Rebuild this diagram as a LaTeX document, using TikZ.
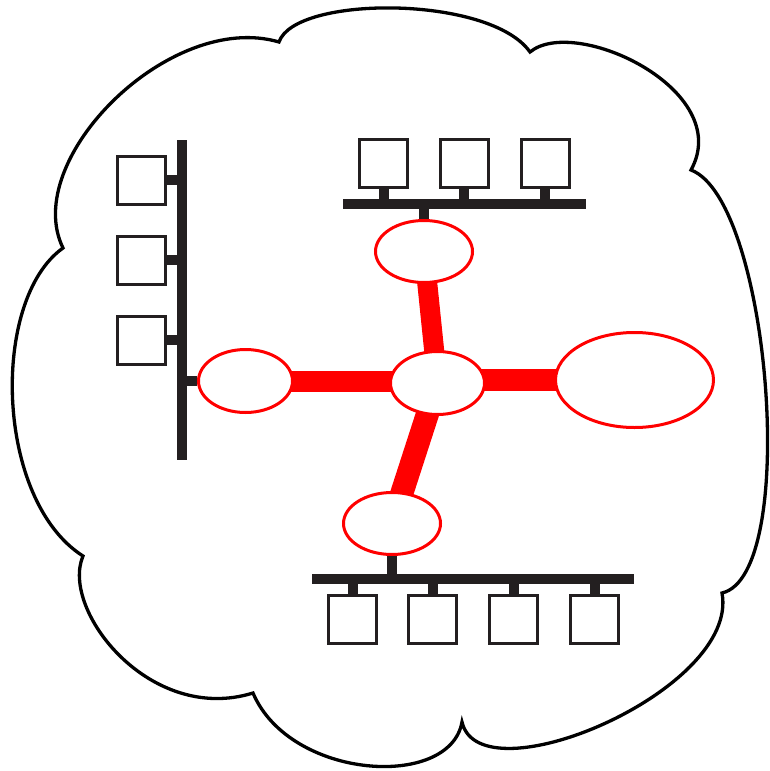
\documentclass[tikz,border=0pt]{standalone}
\usetikzlibrary{shapes.geometric,backgrounds}
\definecolor{netgray}{RGB}{35,31,32}
\definecolor{lanred}{RGB}{255,0,0}
\begin{document}
\begin{tikzpicture}
		[x=1pt,y=-1pt,
		host/.style={shape=rectangle,draw=netgray,line width=3pt,inner sep=0pt,minimum size=48pt},
		gw/.style={shape=ellipse,draw=lanred,line width=3pt,fill=white,inner sep=0pt},
		bus/.style={draw=netgray,line width=10pt},
		trunk/.style={draw=lanred,line width=21pt}]
		\useasboundingbox (0,0) rectangle (770,771);
		\draw[line width=3.3pt] (63,248) .. controls (20,160) and (170,10) .. (279,42)
			.. controls (295,-5) and (490,-5) .. (530,52)
			.. controls (575,15) and (735,90) .. (691,170)
			.. controls (770,200) and (800,575) .. (722,593)
			.. controls (740,690) and (480,800) .. (462,722)
			.. controls (450,790) and (290,780) .. (253,693)
			.. controls (150,725) and (60,610) .. (83,556)
			.. controls (-5,500) and (-10,300) .. (63,248) -- cycle;
		\node[gw,minimum width=94pt,minimum height=63pt] (core) at (437.5,383) {};
		\node[gw,minimum width=94pt,minimum height=63pt] (gwL) at (245.5,381) {};
		\node[gw,minimum width=97pt,minimum height=62pt] (gwT) at (424,251.5) {};
		\node[gw,minimum width=158pt,minimum height=95pt] (gwR) at (634.5,380) {};
		\node[gw,minimum width=97pt,minimum height=62pt] (gwB) at (392,523.5) {};
		\coordinate (lbus) at (182,140);
		\coordinate (lbusEnd) at (182,460);
		\coordinate (tbus) at (343,204);
		\coordinate (tbusEnd) at (586,204);
		\coordinate (bbus) at (312,579);
		\coordinate (bbusEnd) at (634,579);
		\draw[bus] (lbus) -- (lbusEnd);
		\draw[bus] (tbus) -- (tbusEnd);
		\draw[bus] (bbus) -- (bbusEnd);
		\foreach \y [count=\i] in {180,260,340}
		{
			\node[host] (l\i) at (141,\y) {};
			\draw[bus] (l\i.east) -- (l\i.east -| lbus);
		}
		\foreach \x [count=\i] in {383.5,464,545}
		{
			\node[host] (t\i) at (\x,163.5) {};
			\draw[bus] (t\i.south) -- (t\i.south |- tbus);
		}
		\foreach \x [count=\i] in {352.5,432.5,513.5,594.5}
		{
			\node[host] (b\i) at (\x,619) {};
			\draw[bus] (b\i.north) -- (b\i.north |- bbus);
		}
		\draw[bus] (gwL.west) -- (gwL.west -| lbus);
		\draw[bus] (gwT.north) -- (gwT.north |- tbus);
		\draw[bus] (gwB.south) -- (gwB.south |- bbus);
		\begin{pgfonlayer}{background}
		\path
		\foreach \endNode/\w in {gwL/21, gwR/22}
		{
			(\endNode.center) edge[trunk,line width=\w pt] (\endNode.center -| core)
		}
		\foreach \endNode/\w in {gwT/20, gwB/23}
		{
			(core.center) edge[trunk,line width=\w pt] (\endNode.center)
		};
		\end{pgfonlayer}
\end{tikzpicture}
\end{document}
